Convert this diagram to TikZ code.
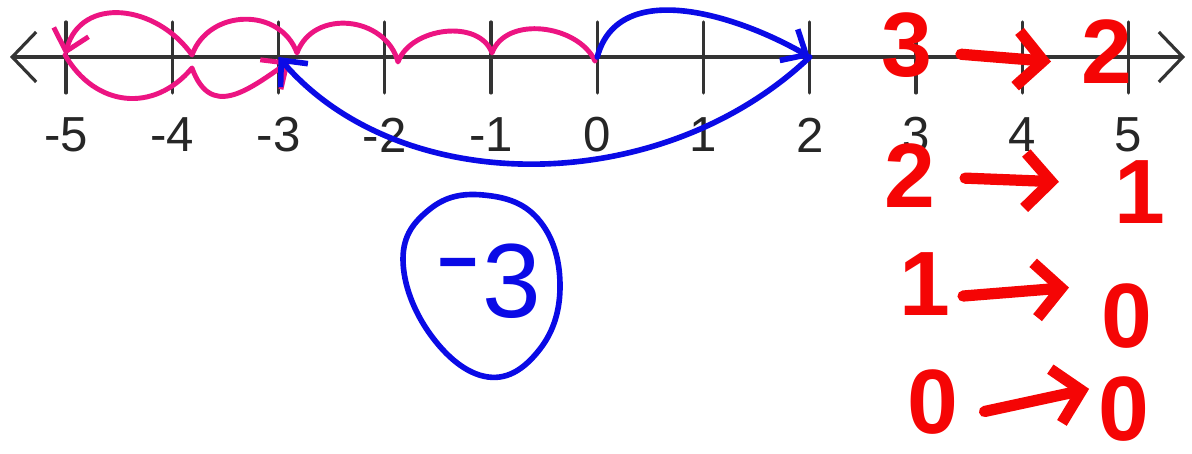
\documentclass[tikz,border=0pt]{standalone}
\usepackage{fontspec}
\setmainfont{Liberation Sans}
\usetikzlibrary{arrows.meta}
\definecolor{cRosa}{RGB}{236,20,130}
\definecolor{cAzul}{RGB}{10,10,230}
\definecolor{cRojo}{RGB}{245,5,5}

\begin{document}
\begin{tikzpicture}[>={Straight Barb[length=2mm,width=3.6mm]}, line cap=round, line join=round,
  eje/.style={line width=0.9pt, black!80},
  num/.style={font=\fontsize{14}{16}\selectfont, text=black!85},
  rosa/.style={line width=1.4pt, cRosa},
  azul/.style={line width=1.6pt, cAzul},
  res/.style={font=\fontsize{30}{32}\selectfont, text=cAzul, inner sep=0pt},
  cifra/.style={font=\fontsize{26}{28}\selectfont\bfseries, text=cRojo, inner sep=0pt},
  flecha/.style={line width=3.2pt, cRojo, -{Straight Barb[length=2.6mm,width=5.5mm]}}]
  \useasboundingbox (0,0) rectangle (11.92,4.54);
  % recta numerica
  \coordinate (izq) at (0.10,3.97);
  \coordinate (der) at (11.85,3.97);
  \draw[eje, {Straight Barb[length=2.4mm,width=5mm]}-{Straight Barb[length=2.4mm,width=5mm]}] (izq) -- (der);
  \foreach \i in {0,...,10} {
    \pgfmathtruncatemacro\v{\i-5}
    \coordinate (t\i) at ({0.66+1.0625*\i},3.97);
    \draw[eje] ([yshift=3.5mm]t\i) -- ([yshift=-3.6mm]t\i);
    \node[num] (l\i) at ([yshift=-7.8mm]t\i) {\v};
  }
  % saltos rosas
  \coordinate (s0) at (5.95,3.93);
  \coordinate (s1) at (4.92,4.01);
  \coordinate (s2) at (3.98,3.92);
  \coordinate (s3) at (2.97,4.01);
  \coordinate (s4) at (1.92,3.99);
  \coordinate (s5) at (0.65,3.99);
  \coordinate (s6) at (1.92,3.86);
  \coordinate (s7) at (2.90,3.93);
  \draw[rosa, ->] (s0) to[out=115,in=70] (s1) to[out=110,in=70] (s2)
    to[out=105,in=70,looseness=1.2] (s3) to[out=110,in=70,looseness=1.2] (s4)
    to[out=125,in=75,looseness=1.25] (s5);
  \draw[rosa, ->] (s5) to[out=-60,in=-130,looseness=1.2] (s6)
    to[out=-70,in=-145,looseness=1.4] (s7);
  % saltos azules
  \draw[azul, ->] (t5) to[out=75,in=150] (t7);
  \draw[azul, ->] (t7) .. controls (6.6,2.55) and (4.0,2.55) .. (t2);
  % resultado
  \node[res] (res) at (4.88,1.73) {\raisebox{0.25em}{\scalebox{1.35}[1]{-}}3};
  \draw[azul] plot[smooth cycle, tension=0.7] coordinates {(4.83,2.59) (5.38,2.35) (5.60,1.70)
    (5.40,1.05) (4.88,0.77) (4.30,1.20) (4.03,1.95) (4.30,2.45)};
  % pasos en rojo
  \node[cifra] (a1) at (9.07,4.09) {3};
  \node[cifra] (b1) at (11.07,4.02) {2};
  \node[cifra] (a2) at (9.10,2.78) {2};
  \node[cifra] (b2) at (11.40,2.62) {1};
  \node[cifra] (a3) at (9.25,1.70) {1};
  \node[cifra] (b3) at (11.27,1.38) {0};
  \node[cifra] (a4) at (9.33,0.52) {0};
  \node[cifra] (b4) at (11.24,0.45) {0};
  \draw[flecha, shorten <=2.8mm, shorten >=3mm] ([yshift=-0.7mm]a1.east) -- ([yshift=-1.2mm]b1.west);
  \draw[flecha, shorten <=2.9mm, shorten >=5.5mm] ([yshift=-0.1mm]a2.east) -- ([yshift=0.8mm]b2.west);
  \draw[flecha, shorten <=1.2mm, shorten >=3.2mm] ([yshift=-1.3mm]a3.east) -- ([yshift=3.1mm]b3.west);
  \draw[flecha, shorten <=2.6mm, shorten >=0.9mm] ([yshift=-1.5mm]a4.east) -- ([yshift=2.2mm]b4.west);
\end{tikzpicture}
\end{document}
